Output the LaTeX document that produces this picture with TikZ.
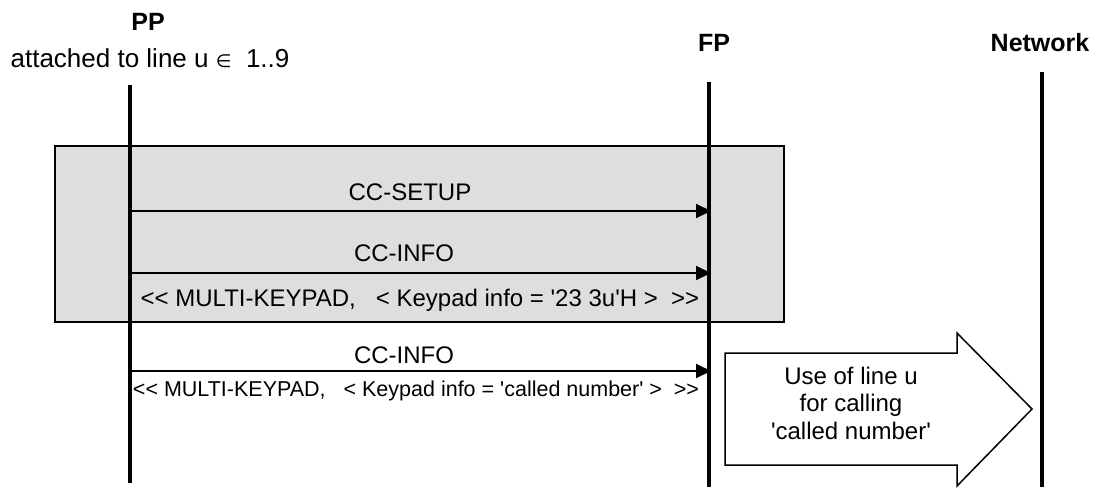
\documentclass[tikz,border=0pt]{standalone}
\usepackage{fontspec}
\setmainfont{Liberation Sans}[Ligatures=TeXOff]
\newfontfamily\symfont{DejaVu Sans}
\usetikzlibrary{arrows.meta}
\begin{document}
\begin{tikzpicture}[x=1pt,y=-1pt,
  lifeline/.style={line width=4pt},
  msg/.style={line width=2pt,-{Triangle[length=15pt,width=14pt]}},
  lbl/.style={font=\fontsize{24}{28}\selectfont, inner sep=0pt},
  small/.style={font=\fontsize{21.5}{25}\selectfont, inner sep=0pt},
  head/.style={font=\fontsize{25}{29}\selectfont\bfseries, inner sep=0pt},
  grpbox/.style={draw=black, line width=1.5pt, fill=black!13},
  bigarrow/.style={draw=black, line width=1.5pt, fill=white}]
\useasboundingbox (0,0) rectangle (1099,488);
% group box
\draw[grpbox] (55,146) rectangle (784,322);
% headers
\node[head] (pph) at (148,22) {PP};
\node[lbl, font=\fontsize{26}{30}\selectfont] (ppsub) at (150,58) {attached to line u {\symfont\fontsize{18}{20}\selectfont ∈}\ \ 1..9};
\node[head] (fph) at (714,43) {FP};
\node[head] (neth) at (1040,43) {Network};
% lifelines
\coordinate (ppt) at (130,85);
\coordinate (ppb) at (130,483);
\coordinate (fpt) at (709,82);
\coordinate (fpb) at (709,487);
\coordinate (nett) at (1042,72);
\coordinate (netb) at (1042,487);
\draw[lifeline] (ppt) -- (ppb);
\draw[lifeline] (fpt) -- (fpb);
\draw[lifeline] (nett) -- (netb);
% messages
\coordinate (m1a) at (130,211); \coordinate (m1b) at (711,211);
\coordinate (m2a) at (130,273); \coordinate (m2b) at (711,273);
\coordinate (m3a) at (130,371); \coordinate (m3b) at (711,371);
\draw[msg] (m1a) -- (m1b);
\draw[msg] (m2a) -- (m2b);
\draw[msg] (m3a) -- (m3b);
\node[lbl] (l1) at (410,192) {CC-SETUP};
\node[lbl] (l2) at (404,253) {CC-INFO};
\node[lbl] (l2b) at (420,300) {<< MULTI-KEYPAD,\ \ \ < Keypad info = '23 3u'H >\ \ >>};
\node[lbl] (l3) at (404,355) {CC-INFO};
\node[small] (l3b) at (416,391) {<< MULTI-KEYPAD,\ \ \ < Keypad info = 'called number' >\ \ >>};
% big arrow
\draw[bigarrow] (725,353) -- (957,353) -- (957,333) -- (1032,409) -- (957,486) -- (957,465) -- (725,465) -- cycle;
\node[lbl, align=center, font=\fontsize{24}{27.5}\selectfont] (use) at (851,403) {Use of line u\\for calling\\'called number'};
\end{tikzpicture}
\end{document}
